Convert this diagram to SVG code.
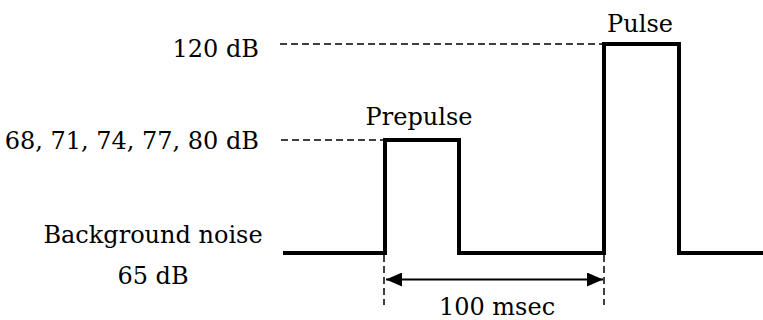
<svg xmlns="http://www.w3.org/2000/svg" width="763" height="320" viewBox="0 0 763 320">
<style>
text{font-family:"DejaVu Serif","Liberation Serif",serif;font-size:24px;fill:#000}
.sig{fill:none;stroke:#000;stroke-width:4;stroke-linejoin:miter}
.dash{fill:none;stroke:#000;stroke-width:1.5;stroke-dasharray:7,4}
.dim{fill:none;stroke:#000;stroke-width:2}
</style>
<defs>
<marker id="ah" viewBox="0 0 16 14" refX="16" refY="7" markerWidth="16" markerHeight="14" markerUnits="userSpaceOnUse" orient="auto-start-reverse">
<path d="M0,0 L16,7 L0,14 Z" fill="#000"/>
</marker>
</defs>
<rect width="763" height="320" fill="#fff"/>
<g id="connectors">
<line class="dash" x1="280" y1="44" x2="602" y2="44"/>
<line class="dash" x1="281" y1="140" x2="383" y2="140"/>
<line class="dash" x1="384" y1="255" x2="384" y2="305"/>
<line class="dash" x1="604" y1="255" x2="604" y2="305"/>
<line class="dim" x1="386" y1="279.5" x2="603" y2="279.5" marker-start="url(#ah)" marker-end="url(#ah)"/>
</g>
<g id="signal">
<path class="sig" d="M283,253 H385 V140 H459 V253 H604 V44 H679 V253 H763"/>
</g>
<g id="label-120">
<text x="259" y="57" text-anchor="end">120 dB</text>
</g>
<g id="label-prepulse-levels">
<text x="259" y="149" text-anchor="end">68, 71, 74, 77, 80 dB</text>
</g>
<g id="label-prepulse">
<text x="419" y="125" text-anchor="middle">Prepulse</text>
</g>
<g id="label-pulse">
<text x="640" y="32" text-anchor="middle">Pulse</text>
</g>
<g id="label-background">
<text x="153" y="243" text-anchor="middle">Background noise</text>
<text x="153" y="284" text-anchor="middle">65 dB</text>
</g>
<g id="label-interval">
<text x="497" y="315" text-anchor="middle">100 msec</text>
</g>
</svg>
